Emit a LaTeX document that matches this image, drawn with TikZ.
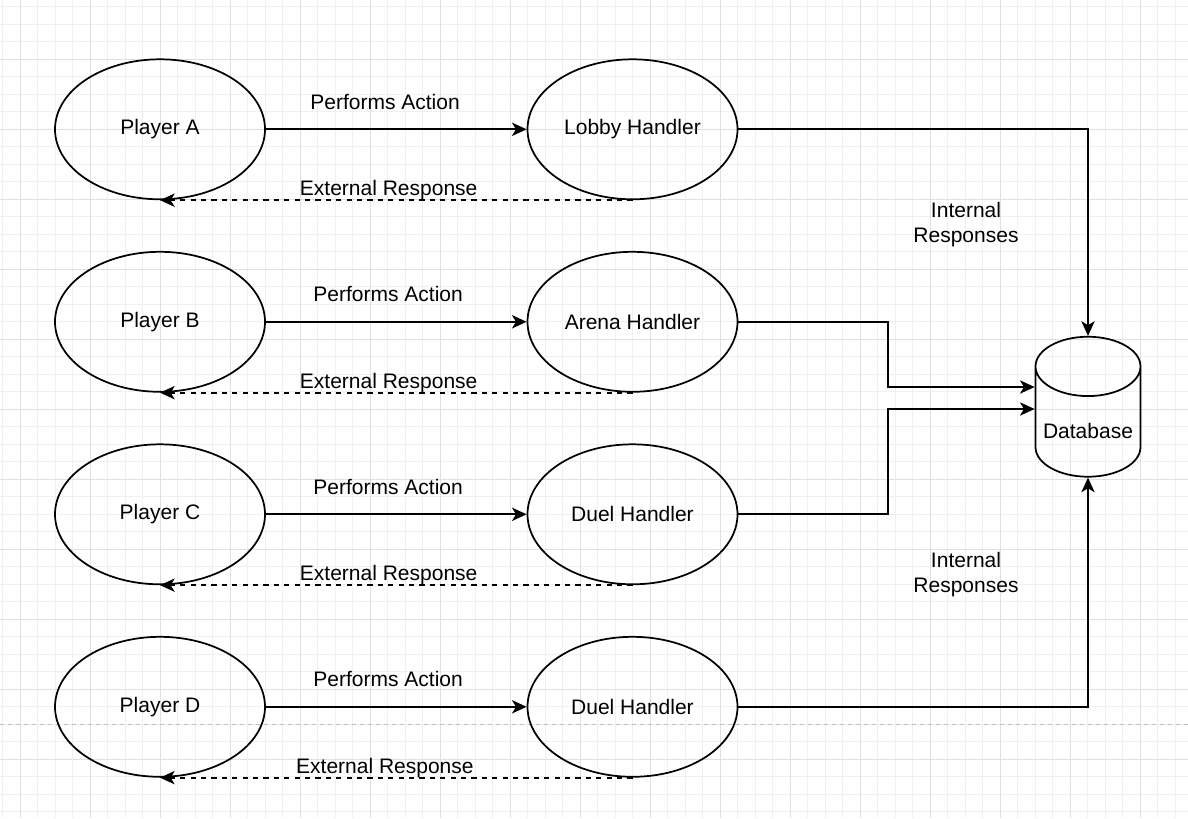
\documentclass[tikz,border=0pt]{standalone}
\usepackage{fontspec}
\setmainfont{Liberation Sans}
\usetikzlibrary{shapes.geometric,arrows.meta}

\begin{document}
\begin{tikzpicture}[
  x=0.75pt, y=-0.75pt,
  font=\fontsize{15.75pt}{18.9pt}\selectfont,
  actor/.style={draw, ellipse, line width=1.3pt, minimum width=157.5pt, minimum height=105pt, inner sep=0pt},
  store/.style={draw, cylinder, shape border rotate=90, aspect=0.66, line width=1.3pt, minimum width=78.75pt, minimum height=105pt, inner sep=0pt},
  act/.style={line width=1.3pt, -{Stealth[length=11pt,width=10pt,inset=3pt]}},
  resp/.style={act, dash pattern=on 3.9pt off 3.9pt},
  lbl/.style={anchor=base, inner sep=0pt},
  gridminor/.style={line width=0.75pt, draw=black!6},
  gridmajor/.style={line width=0.75pt, draw=black!12},
  pagebreak/.style={line width=0.75pt, draw=black!25, dash pattern=on 3pt off 3pt},
]

\useasboundingbox (0,0) rectangle (1188,818);
\fill [white] (0,0) rectangle (1188,818);

\foreach \i in {0,...,67} \draw [gridminor] ({2.5+17.5*\i},0) -- ({2.5+17.5*\i},818);
\foreach \i in {0,...,46} \draw [gridminor] (0,{6.8+17.5*\i}) -- (1188,{6.8+17.5*\i});
\foreach \i in {0,...,16} \draw [gridmajor] ({20+70*\i},0) -- ({20+70*\i},818);
\foreach \i in {0,...,10} \draw [gridmajor] (0,{59.3+70*\i}) -- (1188,{59.3+70*\i});
\draw [pagebreak] (0,724.8) -- (1188,724.8);

\node [actor] (pa) at (160,129.3) {Player A};
\node [actor] (pb) at (160,321.8) {Player B};
\node [actor] (pc) at (160,514.3) {Player C};
\node [actor] (pd) at (160,706.8) {Player D};

\node [actor] (lobby) at (632.5,129.3) {Lobby Handler};
\node [actor] (arena) at (632.5,321.8) {Arena Handler};
\node [actor] (duelc) at (632.5,514.3) {Duel Handler};
\node [actor] (dueld) at (632.5,706.8) {Duel Handler};

\node [store] (db) at (1088,422) {\raisebox{-12pt}[0pt][0pt]{Database}};

\draw [act] (pa.east) -- (lobby.west) node [lbl, pos=0.457, yshift=15pt] {Performs Action};
\draw [act] (pb.east) -- (arena.west) node [lbl, pos=0.469, yshift=15pt] {Performs Action};
\draw [act] (pc.east) -- (duelc.west) node [lbl, pos=0.469, yshift=15pt] {Performs Action};
\draw [act] (pd.east) -- (dueld.west) node [lbl, pos=0.469, yshift=15pt] {Performs Action};

\draw [resp] (lobby.south) -- (pa.south) node [lbl, pos=0.516, yshift=3.2pt] {External Response};
\draw [resp] (arena.south) -- (pb.south) node [lbl, pos=0.516, yshift=3.2pt] {External Response};
\draw [resp] (duelc.south) -- (pc.south) node [lbl, pos=0.516, yshift=3.2pt] {External Response};
\draw [resp] (dueld.south) -- (pd.south) node [lbl, pos=0.524, yshift=3.2pt] {External Response};

\draw [act] (lobby.east) -| (db.north);
\draw [act] (arena.east) -- ++(149.5,0) |- ([yshift=26.25pt]db.west);
\draw [act] (duelc.east) -- ++(149.5,0) |- ([yshift=9.75pt]db.west);
\draw [act] (dueld.east) -| (db.south);

\node [align=center] (int1) at (966,224.5) {Internal\\Responses};
\node [align=center] (int2) at (966,574.5) {Internal\\Responses};

\end{tikzpicture}
\end{document}
